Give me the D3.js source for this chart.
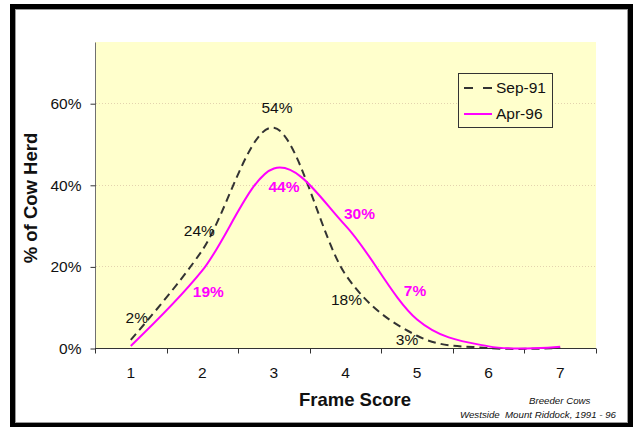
<!DOCTYPE html>
<html>
<head>
<meta charset="utf-8">
<script src="https://cdn.jsdelivr.net/npm/d3@7"></script>
<style>
  html, body { margin: 0; padding: 0; background: #fff; }
  svg { display: block; font-family: "Liberation Sans", Arial, sans-serif; }
</style>
</head>
<body>
<svg id="chart" width="635" height="427"></svg>
<script>
// ---- data ----
const categories = ["1", "2", "3", "4", "5", "6", "7"];
const seriesNames = ["Sep-91", "Apr-96"];
const sep91 = [0.02, 0.24, 0.54, 0.18, 0.03, 0.0, 0.0];
const apr96 = [0.005, 0.19, 0.44, 0.30, 0.07, 0.004, 0.003];
const sep91Labels = ["2%", "24%", "54%", "18%", "3%", null, null];
const apr96Labels = [null, "19%", "44%", "30%", "7%", null, null];
const yTicks = [0, 0.2, 0.4, 0.6];
const xTitle = "Frame Score";
const yTitle = "% of Cow Herd";
const noteLines = ["Breeder Cows", "Westside  Mount Riddock, 1991 - 96"];

// label nudges (pixels, relative to the data point)
const sepNudge = [[6, -22], [-3, -20], [3, -20], [1, 25], [-10, 4], [0, 0], [0, 0]];
const aprNudge = [[0, 0], [6, 21], [10, 18], [14, -12], [-2, -29], [0, 0], [0, 0]];

const svg = d3.select("#chart");

// outer frame
svg.append("rect").attr("x", 12.5).attr("y", 6.5).attr("width", 618).attr("height", 419)
  .attr("fill", "#fff").attr("stroke", "#000").attr("stroke-width", 5);
svg.append("rect").attr("x", 15.5).attr("y", 9.5).attr("width", 612).attr("height", 413)
  .attr("fill", "none").attr("stroke", "#9a9a9a").attr("stroke-width", 1);

const x = d3.scaleBand().domain(categories).range([95, 596]).padding(0);
const y = d3.scaleLinear().domain([0, 0.75]).range([348, 42]);

// plot area
svg.append("rect").attr("x", 95).attr("y", 42).attr("width", 501).attr("height", 306)
  .attr("fill", "#FFFFCC");

// gridlines
svg.append("g").selectAll("line").data(yTicks.filter(d => d > 0)).join("line")
  .attr("x1", 96).attr("x2", 596)
  .attr("y1", d => Math.round(y(d)) + 0.5).attr("y2", d => Math.round(y(d)) + 0.5)
  .attr("stroke", "#E3D3AE").attr("stroke-width", 1).attr("stroke-dasharray", "1,2");

// axes
const yAxis = d3.axisLeft(y).tickValues(yTicks).tickFormat(d3.format(".0%")).tickSize(5).tickPadding(9);
const gy = svg.append("g").attr("transform", "translate(95.5,0.5)").call(yAxis);
gy.select(".domain").attr("stroke", "#707070").attr("d", "M0,42V348");
gy.selectAll(".tick line").attr("stroke", "#333");
gy.selectAll(".tick text").attr("font-size", 15.5).attr("fill", "#111")
  .attr("font-family", "Liberation Sans, Arial, sans-serif");

const xAxis = d3.axisBottom(x).tickSize(0).tickPadding(0);
const gx = svg.append("g").attr("transform", "translate(0,348.5)").call(xAxis);
gx.select(".domain").attr("stroke", "#333").attr("d", "M95,0H596");
gx.selectAll(".tick text").attr("font-size", 15.5).attr("fill", "#111").attr("dy", null).attr("y", 29)
  .attr("font-family", "Liberation Sans, Arial, sans-serif");
// category boundary ticks
const bounds = categories.map(c => x(c)).concat([x(categories[categories.length - 1]) + x.bandwidth()]);
gx.append("g").selectAll("line").data(bounds).join("line")
  .attr("x1", d => Math.round(d) + 0.5).attr("x2", d => Math.round(d) + 0.5)
  .attr("y1", 0).attr("y2", 5).attr("stroke", "#333");

// lines
const cx = c => x(c) + x.bandwidth() / 2;
const line = d3.line().x((d, i) => cx(categories[i])).y(d => y(d)).curve(d3.curveCardinal.tension(0));

svg.append("path").datum(sep91).attr("d", line).attr("fill", "none")
  .attr("stroke", "#333").attr("stroke-width", 2).attr("stroke-dasharray", "8,5");
svg.append("path").datum(apr96).attr("d", line).attr("fill", "none")
  .attr("stroke", "#FF00FF").attr("stroke-width", 2);

// data labels
svg.append("g").selectAll("text").data(sep91.map((v, i) => ({ v, i })).filter(d => sep91Labels[d.i]))
  .join("text")
  .attr("x", d => cx(categories[d.i]) + sepNudge[d.i][0])
  .attr("y", d => y(d.v) + sepNudge[d.i][1])
  .attr("dy", "0.35em").attr("text-anchor", "middle")
  .attr("font-size", 15.5).attr("fill", "#111")
  .text(d => sep91Labels[d.i]);
svg.append("g").selectAll("text").data(apr96.map((v, i) => ({ v, i })).filter(d => apr96Labels[d.i]))
  .join("text")
  .attr("x", d => cx(categories[d.i]) + aprNudge[d.i][0])
  .attr("y", d => y(d.v) + aprNudge[d.i][1])
  .attr("dy", "0.35em").attr("text-anchor", "middle")
  .attr("font-size", 15.5).attr("font-weight", "bold").attr("fill", "#FF00FF")
  .text(d => apr96Labels[d.i]);

// axis titles
svg.append("text").attr("x", 355).attr("y", 406).attr("text-anchor", "middle")
  .attr("font-size", 18.5).attr("font-weight", "bold").attr("fill", "#111").text(xTitle);
svg.append("text").attr("transform", "translate(37,198) rotate(-90)").attr("text-anchor", "middle")
  .attr("font-size", 18.5).attr("font-weight", "bold").attr("fill", "#111").text(yTitle);

// legend
const lg = svg.append("g");
lg.append("rect").attr("x", 458.5).attr("y", 73.5).attr("width", 94).attr("height", 54)
  .attr("fill", "#FFFFCC").attr("stroke", "#333").attr("stroke-width", 1);
const legendStyles = [
  { stroke: "#333", dash: "9,10" },
  { stroke: "#FF00FF", dash: null }
];
seriesNames.forEach((name, i) => {
  const ly = 88 + i * 26;
  lg.append("line").attr("x1", 464).attr("x2", 492).attr("y1", ly).attr("y2", ly)
    .attr("stroke", legendStyles[i].stroke).attr("stroke-width", 2)
    .attr("stroke-dasharray", legendStyles[i].dash);
  lg.append("text").attr("x", 496).attr("y", ly).attr("dy", "0.35em")
    .attr("font-size", 15.5).attr("fill", "#111").text(name);
});

// footnote
svg.append("text").attr("x", 529).attr("y", 404).attr("font-size", 9.7).attr("font-style", "italic")
  .attr("fill", "#111").text(noteLines[0]);
svg.append("text").attr("x", 460).attr("y", 418).attr("font-size", 9.7).attr("font-style", "italic")
  .attr("fill", "#111").style("white-space", "pre").text(noteLines[1]);
</script>
</body>
</html>
